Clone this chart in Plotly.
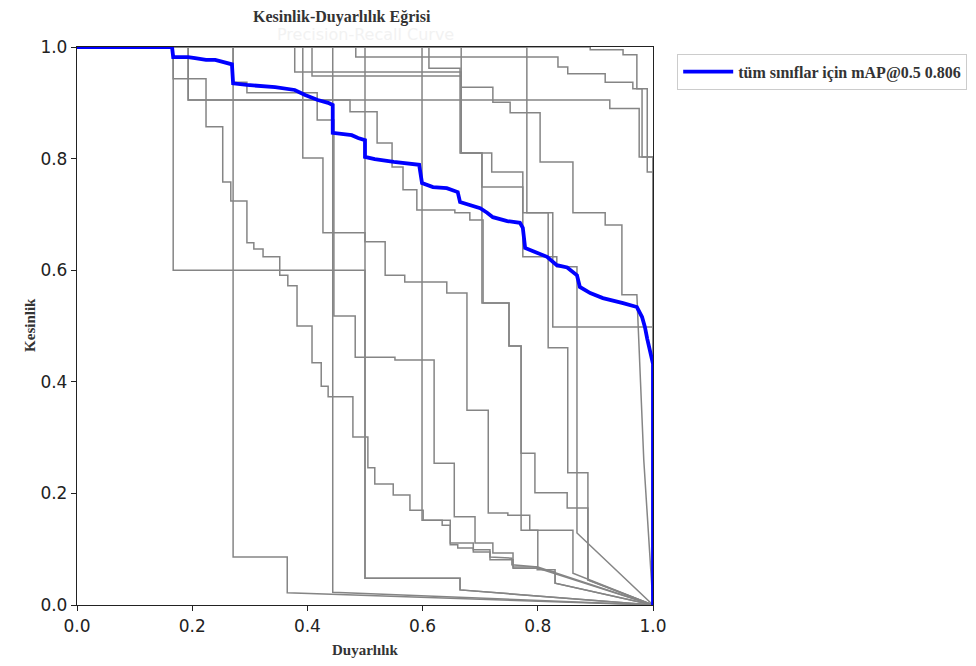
import plotly.graph_objects as go

# ---- per-class precision-recall curves (recall, precision) ----
class_curves = {
    "c01": ([0, .167, .167, .5, .5, .665, .665, 1],
            [1, 1, .6, .6, .048, .048, .027, 0]),
    "c02": ([0, .271, .271, .365, .365, 1],
            [1, 1, .086, .086, .022, 0]),
    "c03": ([0, .167, .167, .224, .224, .253, .253, .267, .267, .295, .295, .307, .307, .323, .323, .352, .352,
             .366, .366, .382, .382, .408, .408, .424, .424, .436, .436, .479, .479, .505, .505, .517, .517,
             .549, .549, .578, .578, .601, .601, .634, .634, .648, .648, .688, .688, .717, .717, .757, .757,
             .799, .799, .830, .830, 1],
            [1, 1, .943, .943, .857, .857, .758, .758, .724, .724, .649, .649, .638, .638, .624, .624, .591,
             .591, .572, .572, .5, .5, .434, .434, .392, .392, .373, .373, .301, .301, .246, .246, .217,
             .217, .197, .197, .170, .170, .152, .152, .143, .143, .111, .111, .099, .099, .081, .081, .068,
             .068, .063, .063, .039, 0]),
    "c04": ([0, .193, .193, .474, .474, .521, .521, .547, .547, .566, .566, .590, .590, .656, .656, .682, .682,
             .705, .705, .750, .750, .771, .771, .795, .795, .851, .851, .887, .887, 1],
            [1, 1, .905, .905, .884, .884, .828, .828, .785, .785, .744, .744, .708, .708, .703, .703, .690,
             .690, .541, .541, .464, .464, .272, .272, .201, .201, .174, .174, .045, 0]),
    "c05": ([0, .392, .392, .427, .427, .5, .5, .535, .535, .569, .569, .642, .642, .677, .677, .714, .714,
             .748, .748, .786, .786, .800, .800, 1],
            [1, 1, .801, .801, .667, .667, .651, .651, .591, .591, .579, .579, .559, .559, .349, .349, .165,
             .165, .161, .161, .134, .134, .066, 0]),
    "c06": ([0, .378, .378, .667, .667, .703, .703, .750, .750, .771, .771, .861, .861, 1],
            [1, 1, .955, .955, .81, .81, .541, .541, .464, .464, .134, .134, .057, 0]),
    "c07": ([0, .484, .484, .835, .835, .852, .852, .917, .917, .965, .965, .981, .981, 1, 1],
            [1, 1, .982, .982, .964, .964, .952, .952, .937, .937, .925, .925, .803, .803, 0]),
    "c08": ([0, .408, .408, .667, .667, .722, .722, .752, .752, .804, .804, .861, .861, .917, .917, .946,
             .946, .972, .984, 1],
            [1, 1, .948, .948, .928, .928, .901, .901, .882, .882, .794, .794, .703, .703, .681, .681,
             .556, .556, .26, 0]),
    "c09": ([0, .667, .667, .703, .703, .774, .774, .818, .818, .852, .852, .887, .887, 1],
            [1, 1, .810, .810, .749, .749, .703, .703, .461, .461, .237, .237, .045, 0]),
    "c10": ([0, .611, .611, .665, .665, .720, .720, .774, .774, .833, .833, .868, .868, 1],
            [1, 1, .962, .962, .81, .81, .776, .776, .624, .624, .606, .606, .129, 0]),
    "c11": ([0, .444, .444, 1],
            [1, 1, .023, 0]),
    "c12": ([0, .271, .271, .295, .295, .417, .417, .446, .446, .483, .483, .552, .552, .620, .620, .655,
             .655, .691, .691, .722, .722, .757, .757, .799, .830, .830, 1],
            [1, 1, .937, .937, .918, .918, .869, .869, .518, .518, .444, .444, .439, .439, .254, .254, .158,
             .158, .111, .111, .093, .093, .066, .066, .059, .039, 0]),
    "c13": ([0, .193, .193, .925, .925, .976, .976, 1, 1],
            [1, 1, .905, .905, .89, .89, .803, .803, 0]),
    "c14": ([0, .781, .781, .826, .826, 1, 1],
            [1, 1, .703, .703, .498, .498, 0]),
    "c15": ([0, .891, .891, .948, .948, .972, .972, .99, .99, 1, 1],
            [1, 1, .995, .995, .986, .986, .925, .925, .776, .776, 0]),
    "c16": ([0, .599, .599, .648, .648, .661, .661, .688, .688, .717, .717, .755, .755, .80, 1],
            [1, 1, .152, .152, .108, .108, .102, .102, .095, .095, .086, .084, .072, .068, 0]),
    "c17": ([0, .5, .5, .665, .665, 1],
            [1, 1, .048, .048, .027, 0]),
}

# ---- mean curve over all classes ----
mean_recall = [0, .165, .167, .193, .205, .224, .240, .252, .269, .271, .295, .344, .378, .396, .418, .436,
               .444, .444, .477, .488, .5, .5, .517, .550, .594, .599, .618, .642, .661, .665, .679, .7,
               .712, .722, .747, .769, .774, .778, .792, .816, .833, .851, .868, .873, .891, .913, .948,
               .972, .981, .986, .990, .998, 1, 1]
mean_precision = [1, 1, .982, .982, .980, .977, .977, .973, .969, .935, .932, .928, .923, .914, .905, .900,
                  .896, .846, .842, .837, .833, .803, .799, .794, .789, .756, .749, .747, .740, .722, .717,
                  .711, .703, .695, .688, .685, .676, .640, .634, .624, .609, .605, .591, .570, .559, .550,
                  .541, .534, .516, .498, .477, .443, .432, 0]
mean_label = "tüm sınıflar için mAP@0.5 0.806"

tick_vals = [0, 0.2, 0.4, 0.6, 0.8, 1.0]
tick_text = ["0.0", "0.2", "0.4", "0.6", "0.8", "1.0"]

fig = go.Figure()
for name, (r, p) in class_curves.items():
    fig.add_trace(go.Scatter(x=r, y=p, mode="lines", showlegend=False, hoverinfo="skip",
                             line=dict(color="#858585", width=1.5)))
fig.add_trace(go.Scatter(x=mean_recall, y=mean_precision, mode="lines", name=mean_label,
                         line=dict(color="#0000ff", width=3.8)))

serif = dict(family="Liberation Serif", size=16, color="#333333", weight="bold")

axis_common = dict(range=[0, 1], tickvals=tick_vals, ticktext=tick_text, showgrid=False, zeroline=False,
                   showline=True, linecolor="#222222", linewidth=1.3, mirror=True,
                   ticks="outside", ticklen=5, tickwidth=1.2, tickcolor="#222222",
                   tickfont=dict(family="DejaVu Sans", size=17, color="#222222"))

fig.update_layout(
    width=968, height=658,
    margin=dict(l=69, r=323, t=39, b=61, autoexpand=False),
    plot_bgcolor="white", paper_bgcolor="white",
    xaxis=axis_common, yaxis=axis_common,
    legend=dict(x=1.042, y=0.988, xanchor="left", yanchor="top", itemwidth=50,
                bordercolor="#cccccc", borderwidth=1, bgcolor="white",
                font=serif),
    annotations=[
        dict(text="Precision-Recall Curve", x=0.5, y=1.022, xref="paper", yref="paper",
             showarrow=False, yanchor="middle",
             font=dict(family="DejaVu Sans", size=16, color="#f2f2f2")),
        dict(text="Kesinlik-Duyarlılık Eğrisi", x=0.46, y=1.053, xref="paper", yref="paper",
             showarrow=False, yanchor="middle", font=serif),
        dict(text="Duyarlılık", x=0.5, y=-0.0806, xref="paper", yref="paper",
             showarrow=False, yanchor="middle", font=dict(serif, size=15)),
        dict(text="Kesinlik", x=-0.0816, y=0.502, xref="paper", yref="paper", textangle=-90,
             showarrow=False, xanchor="center", yanchor="middle", font=dict(serif, size=15)),
    ],
)

fig.write_html("out.html")
